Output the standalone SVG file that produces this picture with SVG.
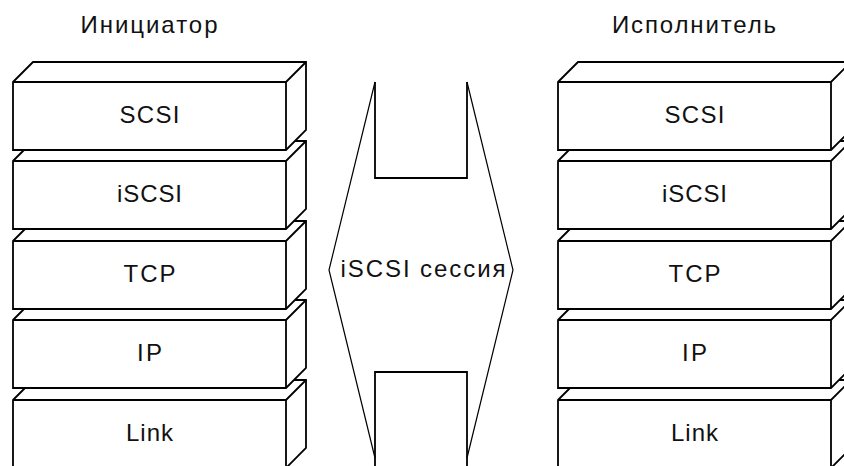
<svg xmlns="http://www.w3.org/2000/svg" xmlns:xlink="http://www.w3.org/1999/xlink" width="844" height="466" viewBox="0 0 844 466">
<style>
.face{fill:#fff;stroke:#000;stroke-width:1.8;stroke-linejoin:miter}
.edge{fill:none;stroke:#000;stroke-width:1.8}
.thin{fill:none;stroke:#000;stroke-width:1.2}
.lbl{font-family:"Liberation Sans",Arial,sans-serif;font-size:24px;fill:#111;text-anchor:middle}
</style>
<defs>
<g id="box">
<path class="face" d="M0,0 L20,-20 L293,-20 L293,48 L273,68 L0,68 Z"/>
<path class="edge" d="M0,0 L273,0 L293,-20 M273,0 L273,68"/>
</g>
</defs>
<rect width="844" height="466" fill="#fff"/>
<text class="lbl" x="149" y="33" textLength="137" lengthAdjust="spacing">Инициатор</text>
<text class="lbl" x="694" y="33" textLength="164" lengthAdjust="spacing">Исполнитель</text>
<g id="init-link" transform="translate(13,400)"><use xlink:href="#box"/><text class="lbl" x="136.5" y="41" textLength="47">Link</text></g>
<g id="init-ip" transform="translate(13,320)"><use xlink:href="#box"/><text class="lbl" x="136.5" y="41" textLength="25">IP</text></g>
<g id="init-tcp" transform="translate(13,241)"><use xlink:href="#box"/><text class="lbl" x="136.5" y="41" textLength="52">TCP</text></g>
<g id="init-iscsi" transform="translate(13,161)"><use xlink:href="#box"/><text class="lbl" x="136.5" y="41" textLength="65">iSCSI</text></g>
<g id="init-scsi" transform="translate(13,82)"><use xlink:href="#box"/><text class="lbl" x="136.5" y="41" textLength="60">SCSI</text></g>
<g id="targ-link" transform="translate(558,400)"><use xlink:href="#box"/><text class="lbl" x="136.5" y="41" textLength="47">Link</text></g>
<g id="targ-ip" transform="translate(558,320)"><use xlink:href="#box"/><text class="lbl" x="136.5" y="41" textLength="25">IP</text></g>
<g id="targ-tcp" transform="translate(558,241)"><use xlink:href="#box"/><text class="lbl" x="136.5" y="41" textLength="52">TCP</text></g>
<g id="targ-iscsi" transform="translate(558,161)"><use xlink:href="#box"/><text class="lbl" x="136.5" y="41" textLength="65">iSCSI</text></g>
<g id="targ-scsi" transform="translate(558,82)"><use xlink:href="#box"/><text class="lbl" x="136.5" y="41" textLength="60">SCSI</text></g>
<g id="connectors">
<path class="thin" d="M375,82 L329,270 L375,458 M467,82 L513,270 L467,458"/>
<path class="edge" d="M375,82 L375,178 L467,178 L467,82 M375,470 L375,372 L467,372 L467,470"/>
<text class="lbl" x="423" y="277" textLength="165" lengthAdjust="spacing">iSCSI сессия</text>
</g>
</svg>
